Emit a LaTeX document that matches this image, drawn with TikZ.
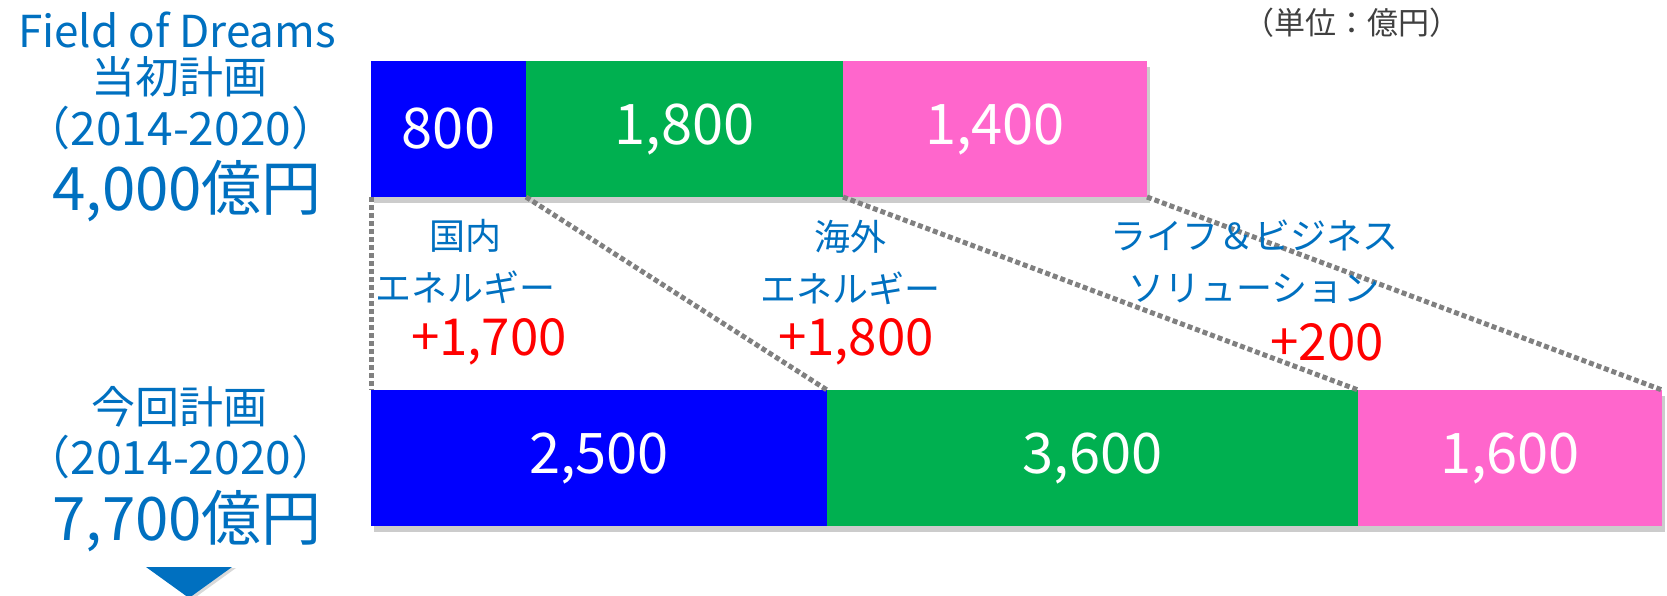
\documentclass[tikz,border=0pt]{standalone}
\usepackage{fontspec}
\setmainfont{Noto Sans CJK JP}
\usetikzlibrary{positioning,shadows}

\definecolor{domblue}{HTML}{0000FF}
\definecolor{ovsgreen}{HTML}{00B050}
\definecolor{lifepink}{HTML}{FF66CC}
\definecolor{headblue}{HTML}{0070C0}
\definecolor{diffred}{HTML}{FF0000}
\definecolor{unitgray}{HTML}{404040}
\definecolor{linkgray}{HTML}{808080}

\begin{document}
\begin{tikzpicture}[x=1pt,y=-1pt,
  bar/.style={shape=rectangle, minimum height=136, inner sep=0pt, outer sep=0pt, text=white, font=\fontsize{56}{60}\selectfont, drop shadow={shadow xshift=3pt, shadow yshift=-6pt, opacity=0.4}},
  head/.style={text=headblue, inner sep=0pt, font=\fontsize{44}{50}\selectfont},
  total/.style={text=headblue, inner sep=0pt, font=\fontsize{60}{66}\selectfont},
  seglbl/.style={text=headblue, align=center, inner sep=0pt, font=\fontsize{36}{52}\selectfont},
  diff/.style={text=diffred, inner sep=0pt, font=\fontsize{51}{56}\selectfont},
  link/.style={draw=linkgray, line width=5pt, dash pattern=on 5pt off 3pt}]
  \useasboundingbox (0,0) rectangle (1667,596);

  % left side titles
  \node (fod) [head] at (177,30) {Field of Dreams};
  \node (oldplan) [head] at (179,77) {当初計画};
  \node (oldyears) [head, font=\fontsize{46}{50}\selectfont] at (181,128) {（2014-2020）};
  \node (oldtotal) [total] at (187,191) {4,000億円};
  \node (newplan) [head] at (179,407) {今回計画};
  \node (newyears) [head, font=\fontsize{46}{50}\selectfont] at (181,457) {（2014-2020）};
  \node (newtotal) [total] at (187,521) {7,700億円};
  \coordinate (downtip) at (189,598);
  \fill[headblue, drop shadow={shadow xshift=4pt, shadow yshift=-1pt, opacity=0.3}] (downtip) -- ++(-43,-31) -- ++(86,0) -- cycle;

  \node (unit) [text=unitgray, inner sep=0pt, font=\fontsize{31}{34}\selectfont] at (1352,23) {（単位：億円）};

  % initial plan bar
  \node (topdom) [bar, fill=domblue, minimum width=155, anchor=north west] at (371,61) {800};
  \node (topovs) [bar, fill=ovsgreen, minimum width=317, right=0pt of topdom] {1,800};
  \node (toplife) [bar, fill=lifepink, minimum width=304, right=0pt of topovs] {1,400};

  % current plan bar
  \node (newdom) [bar, fill=domblue, minimum width=456, anchor=north west] at (371,390) {2,500};
  \node (newovs) [bar, fill=ovsgreen, minimum width=531, right=0pt of newdom] {3,600};
  \node (newlife) [bar, fill=lifepink, minimum width=304, right=0pt of newovs] {1,600};

  \path[link] (topdom.south west) -- (newdom.north west);
  \path[link] (topdom.south east) -- (newdom.north east);
  \path[link] (topovs.south east) -- (newovs.north east);
  \path[link] (toplife.south east) -- (newlife.north east);

  % segment labels
  \node (domlbl) [seglbl] at (465,262) {国内\\エネルギー};
  \node (domdiff) [diff] at (489,342) {+1,700};
  \node (ovslbl) [seglbl] at (850,262) {海外\\エネルギー};
  \node (ovsdiff) [diff] at (856,342) {+1,800};
  \node (lifelbl) [seglbl] at (1254,262) {ライフ＆ビジネス\\ソリューション};
  \node (lifediff) [diff] at (1327,342) {+200};
\end{tikzpicture}
\end{document}
